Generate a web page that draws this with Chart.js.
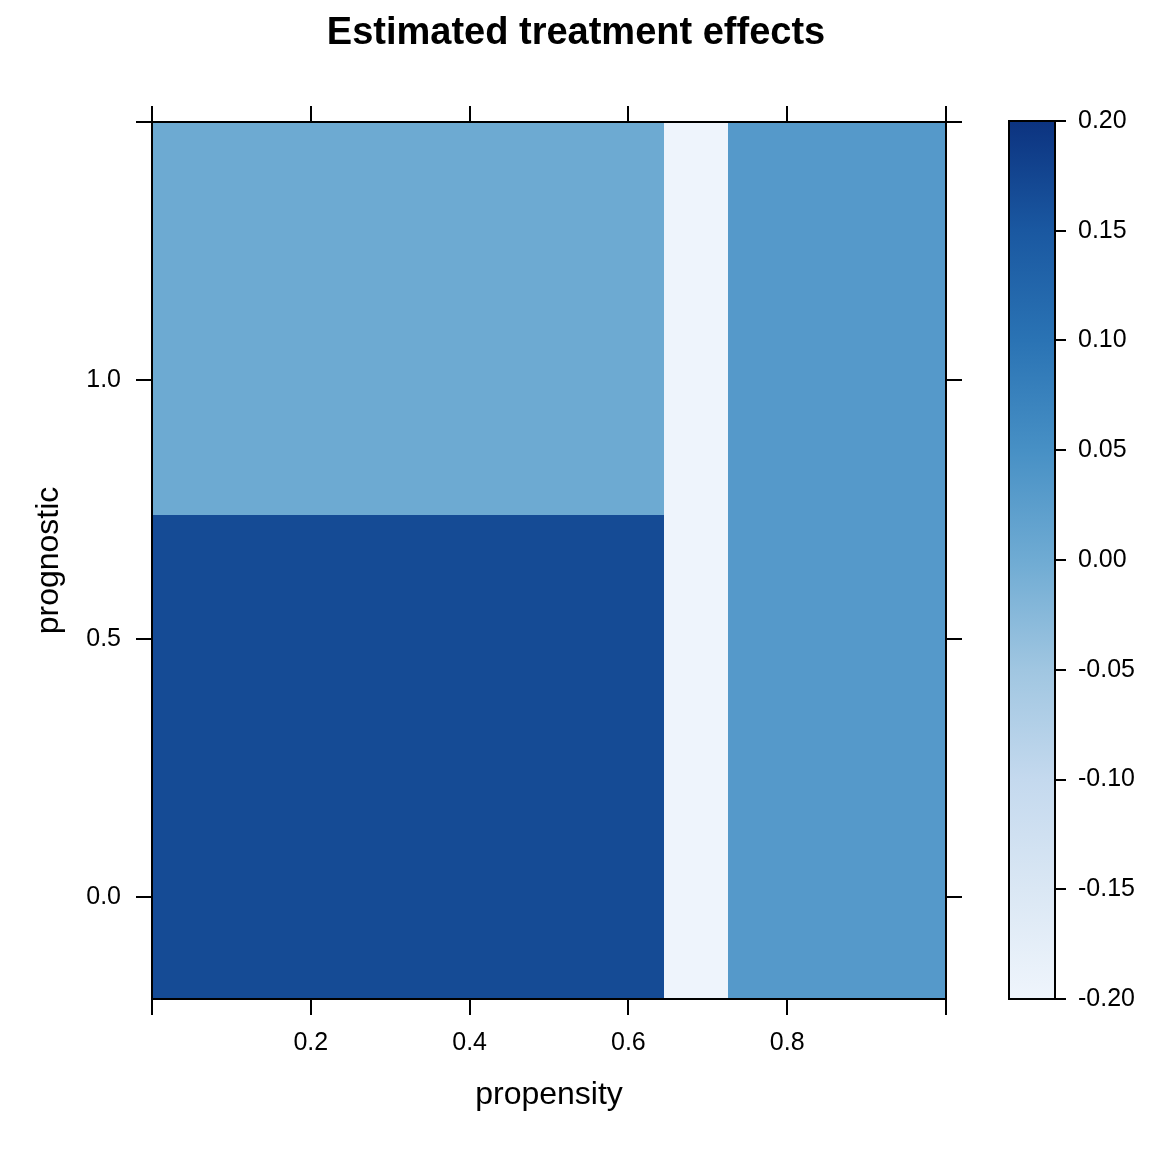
<!DOCTYPE html>
<html>
<head>
<meta charset="utf-8">
<script src="https://cdn.jsdelivr.net/npm/chart.js@4.4.0/dist/chart.umd.min.js"></script>
<style>
  html, body { margin: 0; padding: 0; background: #fff; }
  #main { position: absolute; left: 0; top: 0; }
  #key { position: absolute; left: 960px; top: 0; }
</style>
</head>
<body>
<canvas id="main" width="1152" height="1152"></canvas>
<canvas id="key" width="192" height="1152"></canvas>
<script>
// bin edges of the estimated effects grid
const propEdges = [0, 0.645, 0.725, 1.0];
const progEdges = [-0.197, 0.739, 1.5];
// effects[row][col], row 0 = lower prognostic band
const effects = [
  [0.168, -0.198, 0.033],
  [0.002, -0.198, 0.033]
];

// axis ticks
const xTicks = [0, 0.2, 0.4, 0.6, 0.8, 1.0];
const xTickLabels = ['', '0.2', '0.4', '0.6', '0.8', ''];
const yTicks = [0, 0.5, 1.0, 1.5];
const yTickLabels = ['0.0', '0.5', '1.0', ''];

// colour key
const keyTicks = [-0.2, -0.15, -0.1, -0.05, 0, 0.05, 0.1, 0.15, 0.2];
const keyTickLabels = ['-0.20', '-0.15', '-0.10', '-0.05', '0.00', '0.05', '0.10', '0.15', '0.20'];
const keyCols = ['#eff5fc', '#dae7f4', '#c4d9ee', '#a0c6e1', '#6fabd3', '#4790c5', '#2a73b4', '#1a58a1', '#0c3380'];

const FONT = 'Liberation Sans, Arial, Helvetica, sans-serif';

function hexRgb(h) {
  return [parseInt(h.substr(1, 2), 16), parseInt(h.substr(3, 2), 16), parseInt(h.substr(5, 2), 16)];
}

// value -> colour, linear between the key colours
function colorFor(v) {
  if (v <= keyTicks[0]) return keyCols[0];
  for (let i = 0; i < keyTicks.length - 1; i++) {
    if (v <= keyTicks[i + 1]) {
      const t = (v - keyTicks[i]) / (keyTicks[i + 1] - keyTicks[i]);
      const a = hexRgb(keyCols[i]), b = hexRgb(keyCols[i + 1]);
      const c = a.map((x, k) => Math.round(x + (b[k] - x) * t));
      return `rgb(${c[0]},${c[1]},${c[2]})`;
    }
  }
  return keyCols[keyCols.length - 1];
}

// lattice style axis: ticks outside, box border
function axis(pos, min, max, ticks, labels, size, extra) {
  return Object.assign({
    type: 'linear',
    position: pos,
    min: min,
    max: max,
    grid: { drawOnChartArea: false, drawTicks: true, tickLength: 16, color: '#000', lineWidth: 2 },
    border: { display: true, color: '#000', width: 2 },
    ticks: {
      font: { family: FONT, size: 25 },
      color: '#000',
      padding: pos === 'left' ? 15 : 13,
      autoSkip: false,
      maxRotation: 0,
      callback: (v, i) => labels[i]
    },
    afterBuildTicks: s => { s.ticks = ticks.map(v => ({ value: v })); },
    afterFit: s => {
      if (s.isHorizontal()) s.height = size; else s.width = size;
    }
  }, extra || {});
}

// draw the grid cells through the chart scales
const cellPlugin = {
  id: 'cells',
  beforeDraw(chart) {
    const { ctx, scales: { x, y } } = chart;
    ctx.save();
    effects.forEach((row, r) => {
      row.forEach((v, c) => {
        const x0 = Math.round(x.getPixelForValue(propEdges[c]));
        const x1 = Math.round(x.getPixelForValue(propEdges[c + 1]));
        const y0 = Math.round(y.getPixelForValue(progEdges[r + 1]));
        const y1 = Math.round(y.getPixelForValue(progEdges[r]));
        ctx.fillStyle = colorFor(v);
        ctx.fillRect(x0, y0, x1 - x0, y1 - y0);
      });
    });
    ctx.restore();
  }
};

new Chart(document.getElementById('main'), {
  type: 'scatter',
  data: { datasets: [] },
  options: {
    responsive: false,
    animation: false,
    layout: { padding: { left: 0, right: 0, top: 0, bottom: 38 } },
    plugins: {
      legend: { display: false },
      tooltip: { enabled: false },
      title: {
        display: true,
        text: 'Estimated treatment effects',
        color: '#000',
        font: { family: FONT, size: 38, weight: 'bold' },
        padding: { top: 11, bottom: 0 }
      }
    },
    scales: {
      x: axis('bottom', 0, 1, xTicks, xTickLabels, 115, {
        title: { display: true, text: 'propensity', color: '#000', font: { family: FONT, size: 32 }, padding: 0 }
      }),
      x2: axis('top', 0, 1, xTicks, xTicks.map(() => ''), 65.4),
      y: axis('left', -0.197, 1.5, yTicks, yTickLabels, 152, {
        title: { display: true, text: 'prognostic', color: '#000', font: { family: FONT, size: 32 }, padding: { top: 30, bottom: 0 } }
      }),
      y2: axis('right', -0.197, 1.5, yTicks, yTicks.map(() => ''), 206)
    }
  },
  plugins: [cellPlugin]
});

// colour key on its own canvas
const keyPlugin = {
  id: 'keybar',
  beforeDraw(chart) {
    const { ctx, chartArea: a, scales: { y } } = chart;
    const top = y.getPixelForValue(keyTicks[keyTicks.length - 1]);
    const bot = y.getPixelForValue(keyTicks[0]);
    const g = ctx.createLinearGradient(0, bot, 0, top);
    keyTicks.forEach((v, i) => g.addColorStop((v - keyTicks[0]) / (keyTicks[keyTicks.length - 1] - keyTicks[0]), keyCols[i]));
    ctx.save();
    ctx.fillStyle = g;
    ctx.fillRect(a.left, top, a.right - a.left, bot - top);
    ctx.strokeStyle = '#000';
    ctx.lineWidth = 2;
    ctx.strokeRect(a.left, top, a.right - a.left, bot - top);
    ctx.restore();
  }
};

new Chart(document.getElementById('key'), {
  type: 'scatter',
  data: { datasets: [] },
  options: {
    responsive: false,
    animation: false,
    layout: { padding: { left: 49, right: 0, top: 121, bottom: 153 } },
    plugins: { legend: { display: false }, tooltip: { enabled: false } },
    scales: {
      x: { display: false, min: 0, max: 1 },
      y: axis('right', -0.2, 0.2, keyTicks, keyTickLabels, 97, {
        grid: { drawOnChartArea: false, drawTicks: true, tickLength: 11, color: '#000', lineWidth: 2 },
        ticks: {
          font: { family: FONT, size: 25 }, color: '#000', padding: 12, autoSkip: false,
          callback: (v, i) => keyTickLabels[i]
        }
      })
    }
  },
  plugins: [keyPlugin]
});
</script>
</body>
</html>
